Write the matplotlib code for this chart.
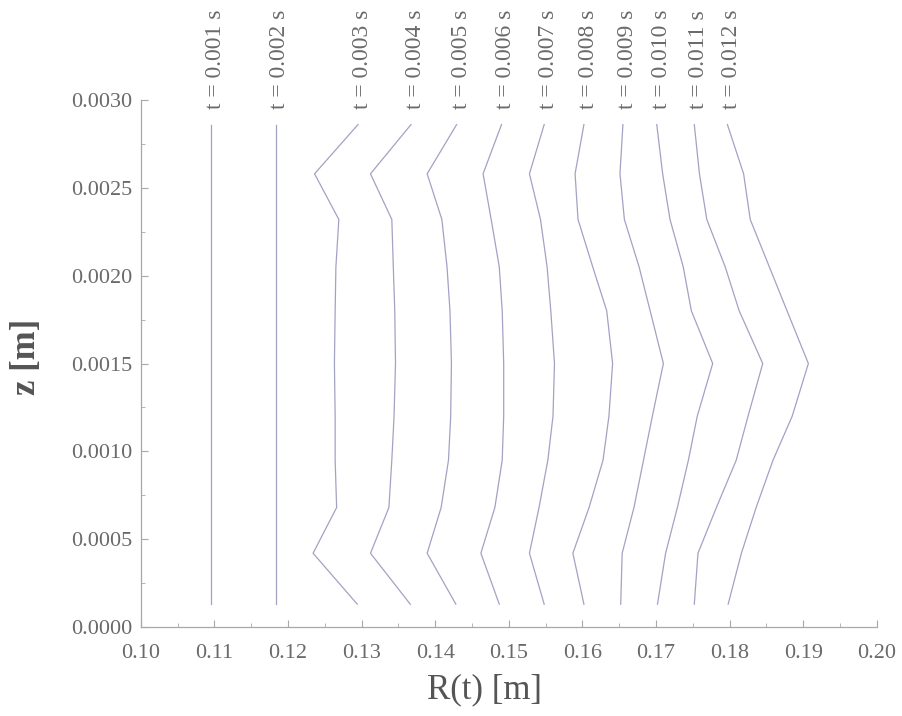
import matplotlib.pyplot as plt
from matplotlib.ticker import MultipleLocator, FormatStrFormatter

# z positions shared by all profiles [m]
z = [0.00013, 0.00042, 0.00068, 0.00095, 0.0012, 0.0015,
     0.0018, 0.00205, 0.00232, 0.00258, 0.00286]

times = ['0.001', '0.002', '0.003', '0.004', '0.005', '0.006',
         '0.007', '0.008', '0.009', '0.010', '0.011', '0.012']

r_001 = [0.1095] * 11
r_002 = [0.1183] * 11
r_003 = [0.1294, 0.1234, 0.1266, 0.1264, 0.1264, 0.1263, 0.1264, 0.1265, 0.1269, 0.1236, 0.1295]
r_004 = [0.1366, 0.1312, 0.1337, 0.1341, 0.1344, 0.1346, 0.1345, 0.1343, 0.1341, 0.1312, 0.1367]
r_005 = [0.1428, 0.1389, 0.1408, 0.1418, 0.1421, 0.1422, 0.1420, 0.1416, 0.1409, 0.1389, 0.1429]
r_006 = [0.1487, 0.1462, 0.1481, 0.1491, 0.1493, 0.1493, 0.1491, 0.1487, 0.1476, 0.1465, 0.1490]
r_007 = [0.1548, 0.1528, 0.1541, 0.1553, 0.1560, 0.1562, 0.1557, 0.1552, 0.1543, 0.1528, 0.1548]
r_008 = [0.1602, 0.1587, 0.1609, 0.1628, 0.1636, 0.1641, 0.1633, 0.1614, 0.1594, 0.1590, 0.1602]
r_009 = [0.1652, 0.1654, 0.1670, 0.1683, 0.1695, 0.1710, 0.1692, 0.1677, 0.1657, 0.1651, 0.1655]
r_010 = [0.1702, 0.1713, 0.1729, 0.1744, 0.1756, 0.1777, 0.1748, 0.1737, 0.1719, 0.1709, 0.1701]
r_011 = [0.1752, 0.1757, 0.1782, 0.1809, 0.1825, 0.1845, 0.1813, 0.1794, 0.1769, 0.1759, 0.1752]
r_012 = [0.1798, 0.1816, 0.1836, 0.1859, 0.1885, 0.1907, 0.1878, 0.1854, 0.1828, 0.1819, 0.1797]

profiles = [r_001, r_002, r_003, r_004, r_005, r_006,
            r_007, r_008, r_009, r_010, r_011, r_012]

plt.rcParams['font.family'] = ['Liberation Serif', 'DejaVu Serif']

fig = plt.figure(figsize=(9.03, 7.16), dpi=100)
ax = fig.add_axes([0.156, 0.1243, 0.815, 0.736])

line_col = '#a2a2c4'
txt_col = '#6a6a6a'

for t, r in zip(times, profiles):
    ax.plot(r, z, color=line_col, lw=0.9)
    # label sits just above the top of each profile
    ax.text(r[-1] + 0.0006, 0.00295, f't = {t} s', rotation=90,
            ha='center', va='bottom', fontsize=17, color=txt_col, clip_on=False)

ax.set_xlim(0.10, 0.20)
ax.set_ylim(0.0, 0.0030)
ax.xaxis.set_major_locator(MultipleLocator(0.01))
ax.xaxis.set_minor_locator(MultipleLocator(0.005))
ax.yaxis.set_major_locator(MultipleLocator(0.0005))
ax.yaxis.set_minor_locator(MultipleLocator(0.00025))
ax.xaxis.set_major_formatter(FormatStrFormatter('%.2f'))
ax.yaxis.set_major_formatter(FormatStrFormatter('%.4f'))

for s in ['top', 'right']:
    ax.spines[s].set_visible(False)
for s in ['left', 'bottom']:
    ax.spines[s].set_color('#a8a8a8')
    ax.spines[s].set_linewidth(0.9)

ax.tick_params(which='both', direction='in', colors='#a8a8a8', labelcolor=txt_col, labelsize=16)
ax.tick_params(which='major', length=5)
ax.tick_params(which='minor', length=3)
ax.tick_params(axis='x', pad=12)
ax.tick_params(axis='y', pad=6)

ax.set_xlabel('R(t) [m]', fontsize=25, color='#555555')
ax.set_ylabel('z [m]', fontsize=25, fontweight='bold', color='#555555')
ax.xaxis.set_label_coords(0.467, -0.088)
ax.yaxis.set_label_coords(-0.133, 0.512)

plt.savefig('out.png', dpi=100)
